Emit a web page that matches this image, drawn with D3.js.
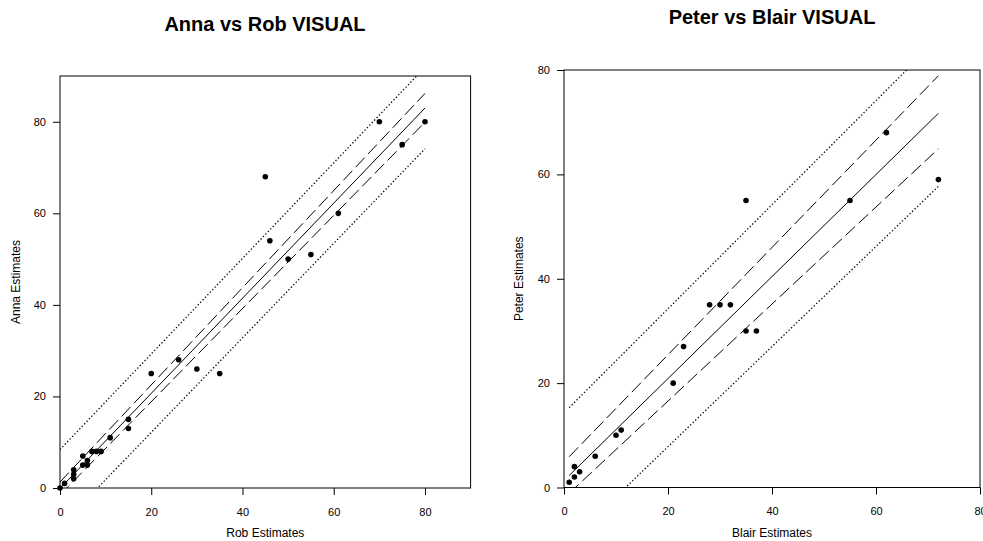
<!DOCTYPE html>
<html><head><meta charset="utf-8">
<script src="https://cdn.jsdelivr.net/npm/d3@7"></script>
<style>
body{margin:0;background:#fff}
svg{display:block}
text{font-family:"Liberation Sans",Arial,Helvetica,sans-serif;fill:#000}
</style>
</head><body>
<svg id="c" width="983" height="541"></svg>
<script>
// ---- data ----
const robEst  = [0,1,3,3,3,5,5,6,6,7,8,9,11,15,15,20,26,30,35,45,46,50,55,61,70,75,80];
const annaEst = [0,1,4,3,2,7,5,6,5,8,8,8,11,15,13,25,28,26,25,68,54,50,51,60,80,75,80];
const blairEst = [1,2,2,3,6,10,11,21,23,28,30,32,35,35,37,55,62,72];
const peterEst = [1,4,2,3,6,10,11,20,27,35,35,35,55,30,30,55,68,59];

const tickValues = [0,20,40,60,80];

// fitted line, confidence (dashed) and prediction (dotted) limits, read at the ends of the x range
const leftLineX      = [0, 80];
const leftFit        = [-0.1, 83.0];
const leftConfUpper  = [1.3, 86.2];
const leftConfLower  = [-1.5, 79.9];
const leftPredUpper  = [8.4, 91.9];
const leftPredLower  = [-8.5, 74.1];

const rightLineX     = [1, 72];
const rightFit       = [2.3, 71.7];
const rightConfUpper = [5.9, 78.9];
const rightConfLower = [-1.1, 64.9];
const rightPredUpper = [15.3, 86.1];
const rightPredLower = [-10.4, 57.7];

const titles  = ["Anna vs Rob VISUAL", "Peter vs Blair VISUAL"];
const xLabels = ["Rob Estimates", "Blair Estimates"];
const yLabels = ["Anna Estimates", "Peter Estimates"];
const xMax = [90, 80];
const yMax = [90, 80];

// ---- layout ----
const DASH = "13,5", DOT = "1.3,2.2";
const panels = [
  {x0:60, x1:470.6, y0:488, y1:76, titleY:31, titleX:265, xs:robEst, ys:annaEst, lx:leftLineX,
   lines:[[leftFit,null],[leftConfUpper,DASH],[leftConfLower,DASH],[leftPredUpper,DOT],[leftPredLower,DOT]],
   yLabX:20, labY:537},
  {x0:564, x1:980, y0:487.5, y1:70, titleY:24, titleX:772, xs:blairEst, ys:peterEst, lx:rightLineX,
   lines:[[rightFit,null],[rightConfUpper,DASH],[rightConfLower,DASH],[rightPredUpper,DOT],[rightPredLower,DOT]],
   yLabX:523, labY:537}
];

const svg = d3.select("#c");

panels.forEach((p, i) => {
  const x = d3.scaleLinear().domain([0, xMax[i]]).range([p.x0, p.x1]);
  const y = d3.scaleLinear().domain([0, yMax[i]]).range([p.y0, p.y1]);
  const g = svg.append("g");

  const clipId = "clip" + i;
  svg.append("clipPath").attr("id", clipId).append("rect")
    .attr("x", p.x0).attr("y", p.y1).attr("width", p.x1 - p.x0).attr("height", p.y0 - p.y1);

  // title
  g.append("text").attr("x", p.titleX).attr("y", p.titleY)
    .attr("text-anchor", "middle").style("font-weight", "bold").style("font-size", "20px")
    .text(titles[i]);

  // axes
  const xa = g.append("g").attr("transform", `translate(0,${p.y0})`)
    .call(d3.axisBottom(x).tickValues(tickValues).tickSize(7).tickPadding(13).tickFormat(d3.format("d")));
  const ya = g.append("g").attr("transform", `translate(${p.x0},0)`)
    .call(d3.axisLeft(y).tickValues(tickValues).tickSize(7).tickPadding(7).tickFormat(d3.format("d")));
  [xa, ya].forEach(a => {
    a.select(".domain").remove();
    a.selectAll("text").style("font-size", "11px").attr("fill", "#000").style("font-family", '"Liberation Sans",Arial,sans-serif');
    a.selectAll("line").attr("stroke", "#000");
  });

  // frame
  g.append("rect").attr("x", p.x0).attr("y", p.y1).attr("width", p.x1 - p.x0).attr("height", p.y0 - p.y1)
    .attr("fill", "none").attr("stroke", "#000").attr("stroke-width", 1);

  // axis titles
  g.append("text").attr("x", (p.x0 + p.x1) / 2).attr("y", p.labY)
    .attr("text-anchor", "middle").style("font-size", "12px").text(xLabels[i]);
  g.append("text").attr("transform", `translate(${p.yLabX},${(p.y0 + p.y1) / 2}) rotate(-90)`)
    .attr("text-anchor", "middle").style("font-size", "12px").text(yLabels[i]);

  // regression / band lines
  const line = d3.line().x(d => x(d[0])).y(d => y(d[1]));
  const lg = g.append("g").attr("clip-path", `url(#${clipId})`);
  p.lines.forEach(([vals, dash]) => {
    lg.append("path").datum(p.lx.map((xv, k) => [xv, vals[k]]))
      .attr("d", line).attr("fill", "none").attr("stroke", "#000")
      .attr("stroke-width", dash === DOT ? 1.3 : 1)
      .attr("stroke-dasharray", dash);
  });

  // points
  g.append("g").selectAll("circle").data(p.xs.map((v, k) => [v, p.ys[k]])).join("circle")
    .attr("cx", d => x(d[0])).attr("cy", d => y(d[1])).attr("r", 2.8).attr("fill", "#000");
});
</script>
</body></html>
